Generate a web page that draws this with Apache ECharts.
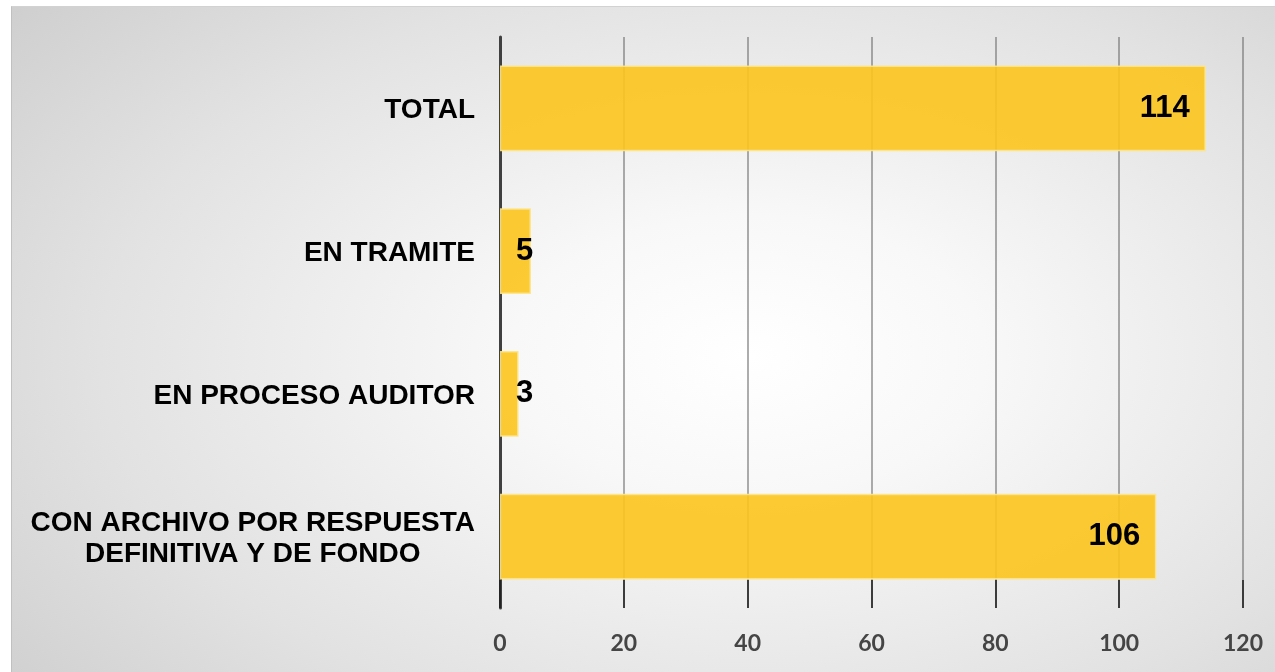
<!DOCTYPE html>
<html>
<head>
<meta charset="utf-8">
<script src="https://cdn.jsdelivr.net/npm/echarts@6/dist/echarts.min.js"></script>
<style>
html,body{margin:0;padding:0;background:#fff;width:1275px;height:672px;overflow:hidden;}
#bg{position:absolute;left:11px;top:6px;width:1270px;height:670px;border-top:1px solid #d2d2d2;border-left:1px solid #c0c0c0;
background:radial-gradient(ellipse 85% 95% at 58% 52%, #ffffff 0%, #f8f8f8 22%, #e2e2e2 60%, #c6c6c6 100%);}
#chart{position:absolute;left:0;top:0;width:1275px;height:672px;}
</style>
</head>
<body>
<div id="bg"></div>
<div id="chart"></div>
<script>
const categories = ['CON ARCHIVO POR RESPUESTA\nDEFINITIVA Y DE FONDO', 'EN PROCESO AUDITOR', 'EN TRAMITE', 'TOTAL'];
const values = [106, 3, 5, 114];
const xMin = 0, xMax = 120, xStep = 20;

const chart = echarts.init(document.getElementById('chart'), null, {renderer: 'canvas'});
const seriesData = values.map(v => ({
  value: v,
  label: v < 20 ? {position: 'insideLeft', distance: 16} : {position: 'insideRight', distance: 16}
}));
chart.setOption({
  backgroundColor: 'transparent',
  animation: false,
  grid: {left: 500, right: 32, top: 37, bottom: 64, containLabel: false},
  xAxis: {
    type: 'value', min: xMin, max: xMax, interval: xStep,
    axisLine: {show: false},
    axisTick: {show: true, inside: true, length: 28, lineStyle: {color: '#1a1a1a', width: 1.5}},
    splitLine: {show: true, lineStyle: {width: 1.5, color: 'rgba(110,110,110,0.75)'}},
    axisLabel: {margin: 24, fontFamily: 'Lato', fontWeight: 'bold', fontSize: 23, color: '#454545'}
  },
  yAxis: {
    type: 'category', data: categories,
    axisLine: {show: true, lineStyle: {color: '#404040', width: 3}},
    axisTick: {show: false},
    splitLine: {show: false},
    axisLabel: {
      margin: 25,
      fontFamily: 'Liberation Sans', fontWeight: 'bold', fontSize: 28, color: '#000',
      padding: [4, 0, 0, 0],
      formatter: v => v.split('\n').map(l => '{c|' + l + '}').join('\n'),
      rich: {c: {fontFamily: 'Liberation Sans', fontWeight: 'bold', fontSize: 28, lineHeight: 31, color: '#000', align: 'center'}}
    }
  },
  series: [{
    type: 'bar', data: seriesData, barCategoryGap: '40%',
    itemStyle: {color: 'rgba(252,196,28,0.9)', borderColor: 'rgba(253,228,140,0.9)', borderWidth: 1.5},
    label: {show: true, color: '#000', fontFamily: 'Liberation Sans', fontWeight: 'bold', fontSize: 31, padding: [4, 0, 0, 0]}
  }]
});
</script>
</body>
</html>
